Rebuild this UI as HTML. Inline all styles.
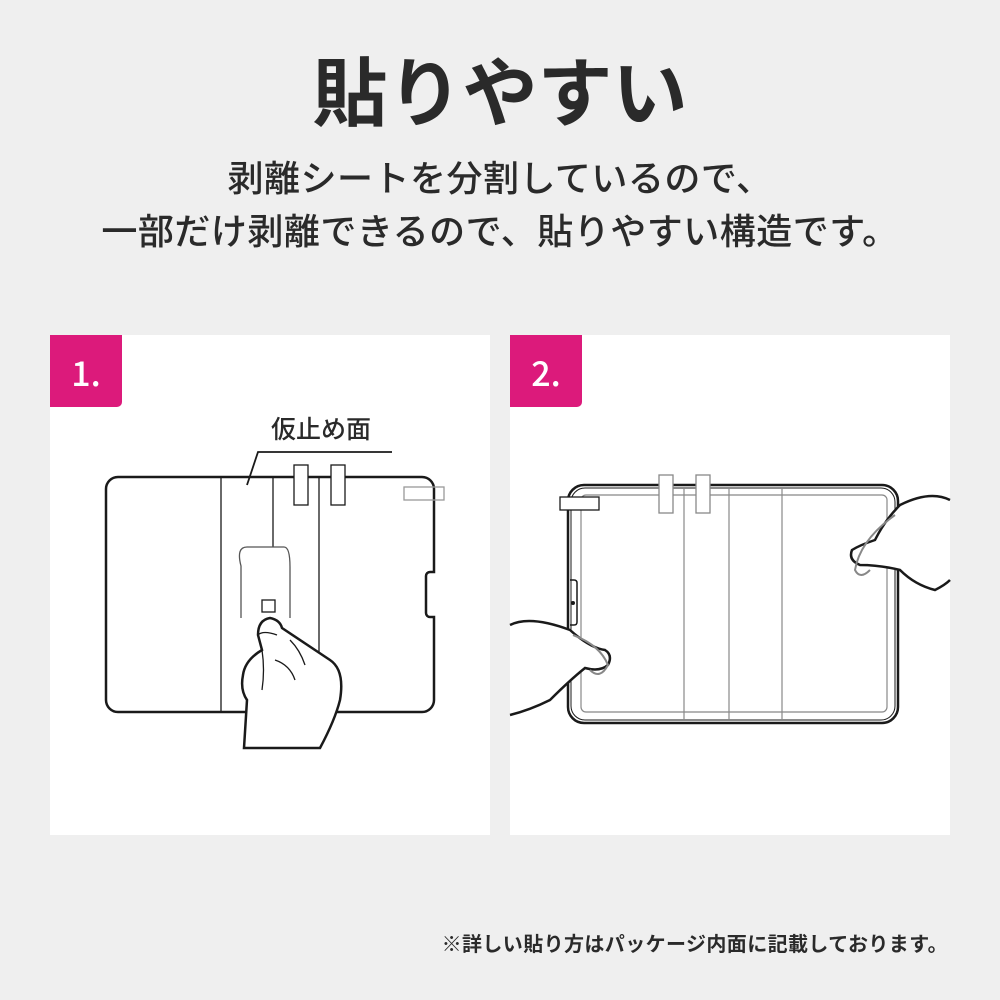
<!DOCTYPE html>
<html><head><meta charset="utf-8"><style>
body{margin:0;width:1000px;height:1000px;background:#efefef;font-family:"Liberation Sans","Noto Sans CJK JP",sans-serif;color:#2a2a2a;position:relative;overflow:hidden}
.t{position:absolute;left:0;width:1000px;text-align:center;white-space:nowrap}
</style></head><body>
<div class="t" style="top:44px;font-size:75px;font-weight:700;line-height:100px">貼りやすい</div>
<div class="t" style="top:154px;font-size:36px;font-weight:500;line-height:50px;letter-spacing:0.5px">剥離シートを分割しているので、</div>
<div class="t" style="top:207px;font-size:36px;font-weight:500;line-height:50px;letter-spacing:0.5px">一部だけ剥離できるので、貼りやすい構造です。</div>
<div style="position:absolute;right:52px;top:928px;font-size:20px;font-weight:700;white-space:nowrap;letter-spacing:0.4px">※詳しい貼り方はパッケージ内面に記載しております。</div>
<svg style="position:absolute;left:0;top:0" width="1000" height="1000" viewBox="0 0 1000 1000">
<rect x="50" y="335" width="440" height="500" fill="#fff"/>
<rect x="510" y="335" width="440" height="500" fill="#fff"/>
<path d="M50 335H122V402a5 5 0 0 1-5 5H50Z" fill="#dc1a7b"/>
<path d="M510 335H582V402a5 5 0 0 1-5 5H510Z" fill="#dc1a7b"/>
<text x="86" y="386" font-size="34" fill="#fff" text-anchor="middle" font-family="Noto Sans CJK JP,sans-serif" font-weight="500">1.</text>
<text x="546" y="386" font-size="34" fill="#fff" text-anchor="middle" font-family="Noto Sans CJK JP,sans-serif" font-weight="500">2.</text>
<text x="321" y="438" font-size="25" fill="#2a2a2a" text-anchor="middle" font-family="Liberation Sans,Noto Sans CJK JP,sans-serif" font-weight="500">仮止め面</text>
<g fill="none" stroke="#1a1a1a">
<path d="M118 477H422a12 12 0 0 1 12 12V572h-4a4 4 0 0 0-4 4V613a4 4 0 0 0 4 4h4V700a12 12 0 0 1-12 12H118a12 12 0 0 1-12-12V489a12 12 0 0 1 12-12Z" stroke-width="2.5"/>
<path d="M221 478V711M273 478V547M319 478V711" stroke-width="1.3"/>
<path d="M392 452H258L247 485" stroke-width="1.8"/>
<rect x="294" y="465" width="14" height="40" fill="#fff" stroke-width="1.3"/>
<rect x="331" y="465" width="14" height="40" fill="#fff" stroke-width="1.3"/>
<rect x="404" y="487" width="40" height="13" fill="none" stroke="#999" stroke-width="1.3"/>
<path d="M241 618V566q-5-19 6-19H284q6 0 6 20V618" fill="#fff" stroke="#555" stroke-width="1.3"/>
<rect x="262" y="600" width="13" height="12" fill="#fff" stroke-width="1.3"/>
<path d="M244 748L247 700Q240 690 243 675Q245 660 262 650L258 635Q258 620 270 618Q280 620 282 628Q300 640 330 660Q345 670 340 700Q335 720 320 748Z" fill="#fff" stroke-width="2.5"/>
<path d="M258 635Q263 630 277 635M262 650Q265 670 262 690M275 660Q290 665 295 680M290 640Q300 650 305 665" stroke-width="1.3"/>
<rect x="568" y="485" width="330" height="238" rx="16" stroke-width="2.5"/>
<rect x="571" y="488" width="324" height="232" rx="14" stroke-width="1"/>
<rect x="581" y="495" width="306" height="217" rx="5" stroke="#888" stroke-width="1.2"/>
<path d="M684 488V720M729 488V720M782 488V720" stroke="#888" stroke-width="1.2"/>
<rect x="659" y="475" width="14" height="38" fill="#fff" stroke="#888" stroke-width="1.3"/>
<rect x="696" y="475" width="14" height="38" fill="#fff" stroke="#888" stroke-width="1.3"/>
<rect x="560" y="497" width="39" height="13" fill="#fff" stroke-width="1.3"/>
<path d="M570 580h4q3 0 3 3V622q0 3-3 3h-4" stroke-width="1.5"/>
<circle cx="573" cy="603" r="1.5" fill="#1a1a1a"/>
<path d="M510 625Q530 615 570 630Q590 648 605 650Q613 655 608 665Q600 672 585 668Q570 680 550 700Q530 710 510 715" fill="#fff" stroke-width="2.5"/>
<path d="M573 635Q600 645 608 665Q600 680 590 670" stroke="#888" stroke-width="2"/>
<path d="M950 500Q930 490 900 505Q885 520 875 540Q860 545 852 550Q848 560 860 565Q880 565 900 570Q915 585 935 590Q945 585 950 580" fill="#fff" stroke-width="2.5"/>
<path d="M895 515Q860 540 855 570Q860 580 870 570" stroke="#888" stroke-width="2"/>
</g>
</svg>
</body></html>
